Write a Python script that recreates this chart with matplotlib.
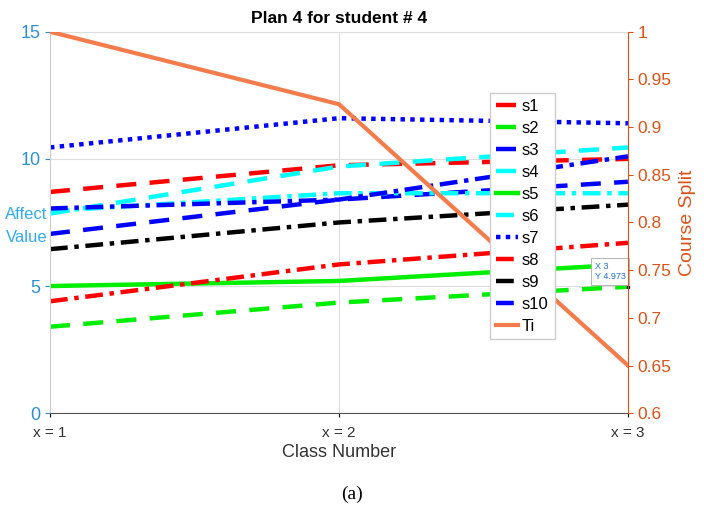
import matplotlib.pyplot as plt

classes = [1, 2, 3]
class_labels = ['x = 1', 'x = 2', 'x = 3']

s1 = [8.7, 9.75, 10.0]
s2 = [3.4, 4.35, 4.973]
s3 = [7.05, 8.4, 9.1]
s4 = [7.85, 9.7, 10.45]
s5 = [5.0, 5.2, 5.85]
s6 = [7.95, 8.65, 8.65]
s7 = [10.45, 11.6, 11.4]
s8 = [4.4, 5.85, 6.7]
s9 = [6.45, 7.5, 8.2]
s10 = [8.05, 8.4, 10.1]
ti = [1.0, 0.924, 0.65]


def main():
    plt.rcParams['font.family'] = ['Liberation Sans', 'DejaVu Sans']

    fig = plt.figure(figsize=(7.04, 5.12), dpi=100)
    ax = fig.add_axes([0.071, 0.193, 0.821, 0.745])
    ax2 = ax.twinx()

    lw = 3.2
    dash = (0, (4.5, 3))
    dashdot = (0, (4, 1.5, 1, 1.5))
    series = [
        ('s1', s1, 'red', dash),
        ('s2', s2, '#00ee00', dash),
        ('s3', s3, 'blue', dash),
        ('s4', s4, 'cyan', dash),
        ('s5', s5, '#00ee00', '-'),
        ('s6', s6, 'cyan', dashdot),
        ('s7', s7, 'blue', (0, (1, 1.2))),
        ('s8', s8, 'red', dashdot),
        ('s9', s9, 'black', dashdot),
        ('s10', s10, 'blue', dashdot),
    ]
    handles = []
    for name, vals, col, ls in series:
        h, = ax.plot(classes, vals, color=col, linestyle=ls, linewidth=lw, label=name)
        handles.append(h)

    h_ti, = ax2.plot(classes, ti, color='#f47c4c', linewidth=3, label='Ti')
    handles.append(h_ti)

    ax.set_xlim(1, 3)
    ax.set_ylim(0, 15)
    ax.set_yticks([0, 5, 10, 15])
    ax.set_xticks(classes)
    ax.set_xticklabels(class_labels, fontsize=11, color='#333333')
    ax.tick_params(axis='y', colors='#2e8fd0', labelsize=13)
    ax.tick_params(axis='x', length=3, pad=6)
    ax.grid(True, color='#dddddd', linewidth=0.8)
    ax.set_axisbelow(True)
    for side in ['top', 'right']:
        ax.spines[side].set_color('#dddddd')
    ax.spines['left'].set_color('#cccccc')
    ax.spines['bottom'].set_color('#555555')

    ax.text(-0.005, 0.49, 'Affect\nValue', transform=ax.transAxes, ha='right', va='center',
            color='#33aaee', fontsize=12, linespacing=1.7)

    ax2.set_ylim(0.6, 1.0)
    ax2.set_yticks([0.6, 0.65, 0.7, 0.75, 0.8, 0.85, 0.9, 0.95, 1.0])
    ax2.set_yticklabels(['0.6', '0.65', '0.7', '0.75', '0.8', '0.85', '0.9', '0.95', '1'])
    ax2.tick_params(axis='y', colors='#d95319', labelsize=12.5)
    ax2.spines['right'].set_color('#d95319')
    ax2.spines['top'].set_visible(False)
    ax2.spines['left'].set_visible(False)
    ax2.spines['bottom'].set_visible(False)
    ax2.set_ylabel('Course Split', color='#d95319', fontsize=14, labelpad=5)

    ax.set_xlabel('Class Number', fontsize=13, color='#333333', labelpad=3)
    ax.set_title('Plan 4 for student # 4', fontsize=12.5, fontweight='bold', pad=6)

    leg = ax2.legend(handles=handles, loc='upper left', bbox_to_anchor=(0.762, 0.84),
                     fontsize=12, handlelength=1.3, handletextpad=0.25, labelspacing=0.42,
                     frameon=True, fancybox=False, borderpad=0.35, borderaxespad=0)
    leg.get_frame().set_edgecolor('#cccccc')
    leg.get_frame().set_alpha(1)

    # data tip on s2 at the last class
    ax.plot([3], [s2[2]], marker='s', color='black', markersize=2, clip_on=False)
    ax.annotate('X 3\nY 4.973', xy=(3, s2[2]), xytext=(-24, 4), textcoords='offset points',
                fontsize=6.5, color='#1f6fd0', ha='left', va='bottom',
                bbox=dict(boxstyle='square,pad=0.4', fc='white', ec='#aaaaaa', lw=0.6))

    fig.text(0.5, 0.035, '(a)', ha='center', va='center', fontsize=14, family='Liberation Serif')

    fig.savefig('out.png', dpi=100)


if __name__ == '__main__':
    main()
